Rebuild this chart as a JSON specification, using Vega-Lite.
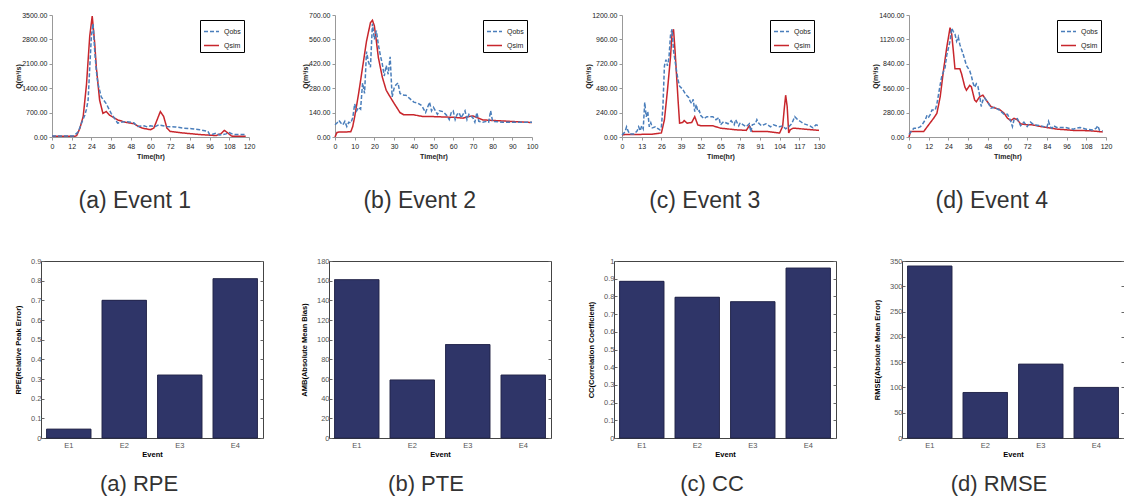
{
"$schema":"https://vega.github.io/schema/vega-lite/v6.json",
"padding":{"left":7,"top":11,"right":3,"bottom":2},
"background":"#ffffff",
"config":{"view":{"stroke":null},"font":"Liberation Sans"},
"resolve":{"scale":{"color":"independent","strokeDash":"independent"},"legend":{"color":"independent","strokeDash":"independent"}},
"datasets":{
"e1":[
{"t":0,"Q":20,"s":"Qsim"},{"t":14,"Q":20,"s":"Qsim"},{"t":15,"Q":40,"s":"Qsim"},{"t":17,"Q":250,"s":"Qsim"},{"t":19,"Q":590,"s":"Qsim"},{"t":21,"Q":1500,"s":"Qsim"},{"t":23,"Q":2900,"s":"Qsim"},{"t":24.5,"Q":3470,"s":"Qsim"},{"t":26,"Q":2700,"s":"Qsim"},{"t":27,"Q":2000,"s":"Qsim"},{"t":29,"Q":1060,"s":"Qsim"},{"t":31,"Q":680,"s":"Qsim"},{"t":33,"Q":730,"s":"Qsim"},{"t":35,"Q":630,"s":"Qsim"},{"t":40,"Q":490,"s":"Qsim"},{"t":45,"Q":420,"s":"Qsim"},{"t":50,"Q":380,"s":"Qsim"},{"t":52,"Q":320,"s":"Qsim"},{"t":55,"Q":255,"s":"Qsim"},{"t":60,"Q":210,"s":"Qsim"},{"t":62,"Q":255,"s":"Qsim"},{"t":64,"Q":490,"s":"Qsim"},{"t":66,"Q":730,"s":"Qsim"},{"t":68,"Q":590,"s":"Qsim"},{"t":70,"Q":255,"s":"Qsim"},{"t":72,"Q":160,"s":"Qsim"},{"t":80,"Q":115,"s":"Qsim"},{"t":90,"Q":70,"s":"Qsim"},{"t":100,"Q":40,"s":"Qsim"},{"t":103,"Q":100,"s":"Qsim"},{"t":105,"Q":190,"s":"Qsim"},{"t":107,"Q":120,"s":"Qsim"},{"t":109,"Q":40,"s":"Qsim"},{"t":110,"Q":20,"s":"Qsim"},{"t":118,"Q":20,"s":"Qsim"},
{"t":0,"Q":30,"s":"Qobs"},{"t":13,"Q":30,"s":"Qobs"},{"t":14,"Q":60,"s":"Qobs"},{"t":16,"Q":150,"s":"Qobs"},{"t":18,"Q":400,"s":"Qobs"},{"t":20,"Q":630,"s":"Qobs"},{"t":21,"Q":800,"s":"Qobs"},{"t":22,"Q":1060,"s":"Qobs"},{"t":23,"Q":2000,"s":"Qobs"},{"t":24,"Q":2900,"s":"Qobs"},{"t":25,"Q":3250,"s":"Qobs"},{"t":26,"Q":2480,"s":"Qobs"},{"t":27,"Q":1900,"s":"Qobs"},{"t":28,"Q":1530,"s":"Qobs"},{"t":30,"Q":1150,"s":"Qobs"},{"t":33,"Q":960,"s":"Qobs"},{"t":36,"Q":680,"s":"Qobs"},{"t":40,"Q":400,"s":"Qobs"},{"t":43,"Q":430,"s":"Qobs"},{"t":45,"Q":445,"s":"Qobs"},{"t":48,"Q":420,"s":"Qobs"},{"t":50,"Q":400,"s":"Qobs"},{"t":52,"Q":300,"s":"Qobs"},{"t":56,"Q":320,"s":"Qobs"},{"t":58,"Q":290,"s":"Qobs"},{"t":60,"Q":320,"s":"Qobs"},{"t":63,"Q":300,"s":"Qobs"},{"t":65,"Q":350,"s":"Qobs"},{"t":70,"Q":300,"s":"Qobs"},{"t":75,"Q":290,"s":"Qobs"},{"t":80,"Q":255,"s":"Qobs"},{"t":85,"Q":240,"s":"Qobs"},{"t":90,"Q":210,"s":"Qobs"},{"t":95,"Q":160,"s":"Qobs"},{"t":96,"Q":70,"s":"Qobs"},{"t":98,"Q":80,"s":"Qobs"},{"t":100,"Q":115,"s":"Qobs"},{"t":102,"Q":60,"s":"Qobs"},{"t":104,"Q":70,"s":"Qobs"},{"t":106,"Q":90,"s":"Qobs"},{"t":108,"Q":130,"s":"Qobs"},{"t":110,"Q":80,"s":"Qobs"},{"t":112,"Q":70,"s":"Qobs"},{"t":118,"Q":70,"s":"Qobs"}
],
"e2":[
{"t":0,"Q":0,"s":"Qsim"},{"t":1,"Q":26,"s":"Qsim"},{"t":2,"Q":28,"s":"Qsim"},{"t":8,"Q":30,"s":"Qsim"},{"t":9,"Q":60,"s":"Qsim"},{"t":10,"Q":117,"s":"Qsim"},{"t":12,"Q":250,"s":"Qsim"},{"t":14,"Q":400,"s":"Qsim"},{"t":16,"Q":550,"s":"Qsim"},{"t":18,"Q":656,"s":"Qsim"},{"t":19,"Q":670,"s":"Qsim"},{"t":20,"Q":637,"s":"Qsim"},{"t":21,"Q":550,"s":"Qsim"},{"t":22,"Q":457,"s":"Qsim"},{"t":24,"Q":344,"s":"Qsim"},{"t":26,"Q":268,"s":"Qsim"},{"t":28,"Q":230,"s":"Qsim"},{"t":30,"Q":193,"s":"Qsim"},{"t":33,"Q":140,"s":"Qsim"},{"t":35,"Q":127,"s":"Qsim"},{"t":40,"Q":127,"s":"Qsim"},{"t":45,"Q":117,"s":"Qsim"},{"t":50,"Q":117,"s":"Qsim"},{"t":60,"Q":113,"s":"Qsim"},{"t":65,"Q":108,"s":"Qsim"},{"t":68,"Q":118,"s":"Qsim"},{"t":70,"Q":121,"s":"Qsim"},{"t":72,"Q":112,"s":"Qsim"},{"t":75,"Q":98,"s":"Qsim"},{"t":80,"Q":95,"s":"Qsim"},{"t":90,"Q":89,"s":"Qsim"},{"t":100,"Q":83,"s":"Qsim"},
{"t":0,"Q":70,"s":"Qobs"},{"t":1,"Q":80,"s":"Qobs"},{"t":2,"Q":95,"s":"Qobs"},{"t":3,"Q":80,"s":"Qobs"},{"t":4,"Q":70,"s":"Qobs"},{"t":5,"Q":90,"s":"Qobs"},{"t":6,"Q":60,"s":"Qobs"},{"t":7,"Q":85,"s":"Qobs"},{"t":8,"Q":80,"s":"Qobs"},{"t":9,"Q":110,"s":"Qobs"},{"t":10,"Q":190,"s":"Qobs"},{"t":11,"Q":150,"s":"Qobs"},{"t":12,"Q":170,"s":"Qobs"},{"t":13,"Q":160,"s":"Qobs"},{"t":14,"Q":310,"s":"Qobs"},{"t":15,"Q":250,"s":"Qobs"},{"t":16,"Q":490,"s":"Qobs"},{"t":17,"Q":430,"s":"Qobs"},{"t":18,"Q":400,"s":"Qobs"},{"t":19,"Q":650,"s":"Qobs"},{"t":20,"Q":560,"s":"Qobs"},{"t":21,"Q":610,"s":"Qobs"},{"t":22,"Q":530,"s":"Qobs"},{"t":23,"Q":470,"s":"Qobs"},{"t":24,"Q":420,"s":"Qobs"},{"t":25,"Q":350,"s":"Qobs"},{"t":26,"Q":410,"s":"Qobs"},{"t":27,"Q":360,"s":"Qobs"},{"t":28,"Q":460,"s":"Qobs"},{"t":29,"Q":230,"s":"Qobs"},{"t":30,"Q":280,"s":"Qobs"},{"t":31,"Q":300,"s":"Qobs"},{"t":32,"Q":310,"s":"Qobs"},{"t":33,"Q":250,"s":"Qobs"},{"t":35,"Q":240,"s":"Qobs"},{"t":36,"Q":240,"s":"Qobs"},{"t":38,"Q":220,"s":"Qobs"},{"t":40,"Q":200,"s":"Qobs"},{"t":42,"Q":195,"s":"Qobs"},{"t":44,"Q":180,"s":"Qobs"},{"t":45,"Q":160,"s":"Qobs"},{"t":46,"Q":140,"s":"Qobs"},{"t":48,"Q":200,"s":"Qobs"},{"t":49,"Q":150,"s":"Qobs"},{"t":50,"Q":170,"s":"Qobs"},{"t":52,"Q":130,"s":"Qobs"},{"t":53,"Q":150,"s":"Qobs"},{"t":55,"Q":145,"s":"Qobs"},{"t":57,"Q":120,"s":"Qobs"},{"t":58,"Q":100,"s":"Qobs"},{"t":59,"Q":140,"s":"Qobs"},{"t":60,"Q":150,"s":"Qobs"},{"t":61,"Q":100,"s":"Qobs"},{"t":62,"Q":130,"s":"Qobs"},{"t":63,"Q":140,"s":"Qobs"},{"t":64,"Q":110,"s":"Qobs"},{"t":65,"Q":130,"s":"Qobs"},{"t":66,"Q":150,"s":"Qobs"},{"t":67,"Q":100,"s":"Qobs"},{"t":68,"Q":130,"s":"Qobs"},{"t":70,"Q":110,"s":"Qobs"},{"t":71,"Q":85,"s":"Qobs"},{"t":72,"Q":140,"s":"Qobs"},{"t":73,"Q":90,"s":"Qobs"},{"t":75,"Q":85,"s":"Qobs"},{"t":77,"Q":90,"s":"Qobs"},{"t":78,"Q":85,"s":"Qobs"},{"t":79,"Q":150,"s":"Qobs"},{"t":80,"Q":90,"s":"Qobs"},{"t":85,"Q":85,"s":"Qobs"},{"t":90,"Q":85,"s":"Qobs"},{"t":95,"Q":85,"s":"Qobs"},{"t":100,"Q":85,"s":"Qobs"}
],
"e3":[
{"t":0,"Q":23,"s":"Qsim"},{"t":10,"Q":25,"s":"Qsim"},{"t":20,"Q":28,"s":"Qsim"},{"t":26,"Q":40,"s":"Qsim"},{"t":28,"Q":170,"s":"Qsim"},{"t":30,"Q":460,"s":"Qsim"},{"t":32,"Q":785,"s":"Qsim"},{"t":33,"Q":1010,"s":"Qsim"},{"t":34,"Q":1060,"s":"Qsim"},{"t":35,"Q":850,"s":"Qsim"},{"t":37,"Q":363,"s":"Qsim"},{"t":38,"Q":136,"s":"Qsim"},{"t":40,"Q":143,"s":"Qsim"},{"t":41,"Q":162,"s":"Qsim"},{"t":43,"Q":136,"s":"Qsim"},{"t":46,"Q":143,"s":"Qsim"},{"t":48,"Q":200,"s":"Qsim"},{"t":50,"Q":120,"s":"Qsim"},{"t":52,"Q":110,"s":"Qsim"},{"t":60,"Q":110,"s":"Qsim"},{"t":65,"Q":87,"s":"Qsim"},{"t":75,"Q":71,"s":"Qsim"},{"t":82,"Q":65,"s":"Qsim"},{"t":84,"Q":110,"s":"Qsim"},{"t":86,"Q":55,"s":"Qsim"},{"t":95,"Q":55,"s":"Qsim"},{"t":104,"Q":39,"s":"Qsim"},{"t":106,"Q":104,"s":"Qsim"},{"t":107,"Q":266,"s":"Qsim"},{"t":108,"Q":411,"s":"Qsim"},{"t":109,"Q":300,"s":"Qsim"},{"t":110,"Q":39,"s":"Qsim"},{"t":111,"Q":71,"s":"Qsim"},{"t":113,"Q":87,"s":"Qsim"},{"t":120,"Q":78,"s":"Qsim"},{"t":130,"Q":65,"s":"Qsim"},
{"t":0,"Q":20,"s":"Qobs"},{"t":2,"Q":50,"s":"Qobs"},{"t":3,"Q":100,"s":"Qobs"},{"t":4,"Q":60,"s":"Qobs"},{"t":5,"Q":30,"s":"Qobs"},{"t":8,"Q":30,"s":"Qobs"},{"t":10,"Q":60,"s":"Qobs"},{"t":11,"Q":100,"s":"Qobs"},{"t":12,"Q":60,"s":"Qobs"},{"t":13,"Q":110,"s":"Qobs"},{"t":14,"Q":80,"s":"Qobs"},{"t":15,"Q":340,"s":"Qobs"},{"t":16,"Q":200,"s":"Qobs"},{"t":17,"Q":250,"s":"Qobs"},{"t":18,"Q":100,"s":"Qobs"},{"t":19,"Q":140,"s":"Qobs"},{"t":20,"Q":90,"s":"Qobs"},{"t":22,"Q":100,"s":"Qobs"},{"t":24,"Q":80,"s":"Qobs"},{"t":25,"Q":70,"s":"Qobs"},{"t":26,"Q":100,"s":"Qobs"},{"t":27,"Q":300,"s":"Qobs"},{"t":28,"Q":700,"s":"Qobs"},{"t":29,"Q":760,"s":"Qobs"},{"t":30,"Q":700,"s":"Qobs"},{"t":31,"Q":780,"s":"Qobs"},{"t":32,"Q":1000,"s":"Qobs"},{"t":33,"Q":1060,"s":"Qobs"},{"t":34,"Q":850,"s":"Qobs"},{"t":35,"Q":750,"s":"Qobs"},{"t":36,"Q":650,"s":"Qobs"},{"t":37,"Q":560,"s":"Qobs"},{"t":38,"Q":500,"s":"Qobs"},{"t":40,"Q":470,"s":"Qobs"},{"t":42,"Q":420,"s":"Qobs"},{"t":44,"Q":390,"s":"Qobs"},{"t":45,"Q":350,"s":"Qobs"},{"t":46,"Q":330,"s":"Qobs"},{"t":47,"Q":370,"s":"Qobs"},{"t":48,"Q":250,"s":"Qobs"},{"t":49,"Q":320,"s":"Qobs"},{"t":50,"Q":250,"s":"Qobs"},{"t":51,"Q":260,"s":"Qobs"},{"t":52,"Q":210,"s":"Qobs"},{"t":54,"Q":180,"s":"Qobs"},{"t":56,"Q":200,"s":"Qobs"},{"t":60,"Q":200,"s":"Qobs"},{"t":62,"Q":170,"s":"Qobs"},{"t":64,"Q":190,"s":"Qobs"},{"t":65,"Q":120,"s":"Qobs"},{"t":67,"Q":150,"s":"Qobs"},{"t":70,"Q":130,"s":"Qobs"},{"t":72,"Q":160,"s":"Qobs"},{"t":74,"Q":120,"s":"Qobs"},{"t":75,"Q":170,"s":"Qobs"},{"t":77,"Q":110,"s":"Qobs"},{"t":78,"Q":140,"s":"Qobs"},{"t":80,"Q":120,"s":"Qobs"},{"t":82,"Q":100,"s":"Qobs"},{"t":84,"Q":130,"s":"Qobs"},{"t":85,"Q":50,"s":"Qobs"},{"t":86,"Q":120,"s":"Qobs"},{"t":88,"Q":130,"s":"Qobs"},{"t":89,"Q":170,"s":"Qobs"},{"t":90,"Q":140,"s":"Qobs"},{"t":92,"Q":110,"s":"Qobs"},{"t":95,"Q":130,"s":"Qobs"},{"t":98,"Q":100,"s":"Qobs"},{"t":100,"Q":120,"s":"Qobs"},{"t":104,"Q":100,"s":"Qobs"},{"t":106,"Q":110,"s":"Qobs"},{"t":108,"Q":80,"s":"Qobs"},{"t":110,"Q":100,"s":"Qobs"},{"t":112,"Q":130,"s":"Qobs"},{"t":114,"Q":200,"s":"Qobs"},{"t":116,"Q":170,"s":"Qobs"},{"t":118,"Q":150,"s":"Qobs"},{"t":120,"Q":130,"s":"Qobs"},{"t":124,"Q":110,"s":"Qobs"},{"t":126,"Q":90,"s":"Qobs"},{"t":128,"Q":120,"s":"Qobs"},{"t":130,"Q":110,"s":"Qobs"}
],
"e4":[
{"t":0,"Q":0,"s":"Qsim"},{"t":1,"Q":64,"s":"Qsim"},{"t":2,"Q":64,"s":"Qsim"},{"t":9,"Q":64,"s":"Qsim"},{"t":12,"Q":140,"s":"Qsim"},{"t":15,"Q":215,"s":"Qsim"},{"t":17,"Q":272,"s":"Qsim"},{"t":19,"Q":461,"s":"Qsim"},{"t":21,"Q":764,"s":"Qsim"},{"t":23,"Q":1028,"s":"Qsim"},{"t":25,"Q":1255,"s":"Qsim"},{"t":26,"Q":1180,"s":"Qsim"},{"t":27,"Q":990,"s":"Qsim"},{"t":28,"Q":782,"s":"Qsim"},{"t":30,"Q":782,"s":"Qsim"},{"t":31,"Q":782,"s":"Qsim"},{"t":32,"Q":726,"s":"Qsim"},{"t":34,"Q":575,"s":"Qsim"},{"t":35,"Q":537,"s":"Qsim"},{"t":37,"Q":593,"s":"Qsim"},{"t":38,"Q":575,"s":"Qsim"},{"t":40,"Q":423,"s":"Qsim"},{"t":41,"Q":404,"s":"Qsim"},{"t":43,"Q":461,"s":"Qsim"},{"t":45,"Q":480,"s":"Qsim"},{"t":47,"Q":423,"s":"Qsim"},{"t":50,"Q":348,"s":"Qsim"},{"t":53,"Q":329,"s":"Qsim"},{"t":55,"Q":318,"s":"Qsim"},{"t":58,"Q":272,"s":"Qsim"},{"t":60,"Q":215,"s":"Qsim"},{"t":62,"Q":189,"s":"Qsim"},{"t":64,"Q":215,"s":"Qsim"},{"t":66,"Q":197,"s":"Qsim"},{"t":68,"Q":151,"s":"Qsim"},{"t":72,"Q":140,"s":"Qsim"},{"t":75,"Q":140,"s":"Qsim"},{"t":80,"Q":121,"s":"Qsim"},{"t":90,"Q":91,"s":"Qsim"},{"t":100,"Q":76,"s":"Qsim"},{"t":110,"Q":72,"s":"Qsim"},{"t":117,"Q":60,"s":"Qsim"},{"t":118,"Q":57,"s":"Qsim"},
{"t":0,"Q":30,"s":"Qobs"},{"t":2,"Q":80,"s":"Qobs"},{"t":3,"Q":100,"s":"Qobs"},{"t":5,"Q":100,"s":"Qobs"},{"t":7,"Q":120,"s":"Qobs"},{"t":8,"Q":140,"s":"Qobs"},{"t":10,"Q":200,"s":"Qobs"},{"t":11,"Q":250,"s":"Qobs"},{"t":12,"Q":230,"s":"Qobs"},{"t":13,"Q":260,"s":"Qobs"},{"t":14,"Q":310,"s":"Qobs"},{"t":16,"Q":310,"s":"Qobs"},{"t":17,"Q":380,"s":"Qobs"},{"t":19,"Q":600,"s":"Qobs"},{"t":20,"Q":700,"s":"Qobs"},{"t":22,"Q":800,"s":"Qobs"},{"t":23,"Q":940,"s":"Qobs"},{"t":25,"Q":1100,"s":"Qobs"},{"t":26,"Q":1250,"s":"Qobs"},{"t":27,"Q":1210,"s":"Qobs"},{"t":28,"Q":1180,"s":"Qobs"},{"t":29,"Q":1100,"s":"Qobs"},{"t":30,"Q":1150,"s":"Qobs"},{"t":31,"Q":1060,"s":"Qobs"},{"t":33,"Q":950,"s":"Qobs"},{"t":35,"Q":820,"s":"Qobs"},{"t":37,"Q":760,"s":"Qobs"},{"t":38,"Q":700,"s":"Qobs"},{"t":39,"Q":620,"s":"Qobs"},{"t":40,"Q":570,"s":"Qobs"},{"t":41,"Q":610,"s":"Qobs"},{"t":42,"Q":580,"s":"Qobs"},{"t":43,"Q":480,"s":"Qobs"},{"t":44,"Q":350,"s":"Qobs"},{"t":45,"Q":420,"s":"Qobs"},{"t":46,"Q":450,"s":"Qobs"},{"t":48,"Q":400,"s":"Qobs"},{"t":50,"Q":330,"s":"Qobs"},{"t":52,"Q":340,"s":"Qobs"},{"t":55,"Q":310,"s":"Qobs"},{"t":58,"Q":260,"s":"Qobs"},{"t":60,"Q":260,"s":"Qobs"},{"t":62,"Q":180,"s":"Qobs"},{"t":63,"Q":120,"s":"Qobs"},{"t":64,"Q":200,"s":"Qobs"},{"t":66,"Q":210,"s":"Qobs"},{"t":68,"Q":130,"s":"Qobs"},{"t":70,"Q":170,"s":"Qobs"},{"t":72,"Q":120,"s":"Qobs"},{"t":74,"Q":170,"s":"Qobs"},{"t":76,"Q":140,"s":"Qobs"},{"t":80,"Q":130,"s":"Qobs"},{"t":84,"Q":110,"s":"Qobs"},{"t":85,"Q":180,"s":"Qobs"},{"t":86,"Q":120,"s":"Qobs"},{"t":87,"Q":100,"s":"Qobs"},{"t":88,"Q":130,"s":"Qobs"},{"t":90,"Q":110,"s":"Qobs"},{"t":95,"Q":110,"s":"Qobs"},{"t":100,"Q":90,"s":"Qobs"},{"t":104,"Q":110,"s":"Qobs"},{"t":108,"Q":90,"s":"Qobs"},{"t":112,"Q":80,"s":"Qobs"},{"t":114,"Q":100,"s":"Qobs"},{"t":115,"Q":130,"s":"Qobs"},{"t":116,"Q":80,"s":"Qobs"},{"t":118,"Q":70,"s":"Qobs"}
],
"m":[
{"e":"E1","RPE":0.045,"AMB":161,"CC":0.885,"RMSE":340},
{"e":"E2","RPE":0.70,"AMB":59,"CC":0.795,"RMSE":90},
{"e":"E3","RPE":0.32,"AMB":95,"CC":0.77,"RMSE":146},
{"e":"E4","RPE":0.81,"AMB":64,"CC":0.96,"RMSE":100}
],
"pad":[{"a":0}]
},
"columns":1,
"align":"none",
"spacing":43,
"concat":[
{"hconcat":[
{"width":1,"height":1,"data":{"name":"pad"},"mark":{"type":"point","opacity":0},"encoding":{}},
{"hconcat":[
{"width":197,"height":122,"data":{"name":"e1"},"mark":{"type":"line","strokeWidth":1.5},
"title":{"text":"(a) Event 1","orient":"bottom","fontSize":23,"fontWeight":"normal","color":"#333","offset":31,"frame":"bounds","anchor":"middle"},
"encoding":{
"x":{"field":"t","type":"quantitative","scale":{"domain":[0,120]},"axis":{"values":[0,12,24,36,48,60,72,84,96,108,120],"title":"Time(hr)","titleFontSize":7,"titleFontWeight":"bold","titleColor":"#222","titlePadding":3,"labelFontSize":7,"labelColor":"#222","domainColor":"#999","tickColor":"#999","tickSize":3,"labelPadding":2,"grid":false,"labelFlush":false}},
"y":{"field":"Q","type":"quantitative","scale":{"domain":[0,3500]},"axis":{"values":[0,700,1400,2100,2800,3500],"format":".2f","title":"Q(m³/s)","titleFontSize":7,"titleFontWeight":"bold","titleColor":"#222","titlePadding":0,"labelFontSize":7,"labelColor":"#222","domainColor":"#999","tickColor":"#999","tickSize":3,"labelPadding":2,"grid":false}},
"color":{"field":"s","type":"nominal","scale":{"domain":["Qobs","Qsim"],"range":["#4A7EBB","#C8262C"]},"legend":{"orient":"top-right","title":null,"strokeColor":"#000","fillColor":"#fff","padding":3,"offset":5,"rowPadding":2,"symbolType":"stroke","symbolSize":225,"symbolStrokeWidth":1.5,"labelFontSize":7,"labelColor":"#222"}},
"strokeDash":{"field":"s","type":"nominal","scale":{"domain":["Qobs","Qsim"],"range":[[4,2],[1,0]]},"legend":{"orient":"top-right","title":null,"strokeColor":"#000","fillColor":"#fff","padding":3,"offset":5,"rowPadding":2,"symbolType":"stroke","symbolSize":225,"symbolStrokeWidth":1.5,"labelFontSize":7,"labelColor":"#222"}}
}},
{"width":197,"height":122,"data":{"name":"e2"},"mark":{"type":"line","strokeWidth":1.5},
"title":{"text":"(b) Event 2","orient":"bottom","fontSize":23,"fontWeight":"normal","color":"#333","offset":31,"frame":"bounds","anchor":"middle"},
"encoding":{
"x":{"field":"t","type":"quantitative","scale":{"domain":[0,100]},"axis":{"values":[0,10,20,30,40,50,60,70,80,90,100],"title":"Time(hr)","titleFontSize":7,"titleFontWeight":"bold","titleColor":"#222","titlePadding":3,"labelFontSize":7,"labelColor":"#222","domainColor":"#999","tickColor":"#999","tickSize":3,"labelPadding":2,"grid":false,"labelFlush":false}},
"y":{"field":"Q","type":"quantitative","scale":{"domain":[0,700]},"axis":{"values":[0,140,280,420,560,700],"format":".2f","title":"Q(m³/s)","titleFontSize":7,"titleFontWeight":"bold","titleColor":"#222","titlePadding":0,"labelFontSize":7,"labelColor":"#222","domainColor":"#999","tickColor":"#999","tickSize":3,"labelPadding":2,"grid":false}},
"color":{"field":"s","type":"nominal","scale":{"domain":["Qobs","Qsim"],"range":["#4A7EBB","#C8262C"]},"legend":{"orient":"top-right","title":null,"strokeColor":"#000","fillColor":"#fff","padding":3,"offset":5,"rowPadding":2,"symbolType":"stroke","symbolSize":225,"symbolStrokeWidth":1.5,"labelFontSize":7,"labelColor":"#222"}},
"strokeDash":{"field":"s","type":"nominal","scale":{"domain":["Qobs","Qsim"],"range":[[4,2],[1,0]]},"legend":{"orient":"top-right","title":null,"strokeColor":"#000","fillColor":"#fff","padding":3,"offset":5,"rowPadding":2,"symbolType":"stroke","symbolSize":225,"symbolStrokeWidth":1.5,"labelFontSize":7,"labelColor":"#222"}}
}},
{"width":197,"height":122,"data":{"name":"e3"},"mark":{"type":"line","strokeWidth":1.5},
"title":{"text":"(c) Event 3","orient":"bottom","fontSize":23,"fontWeight":"normal","color":"#333","offset":31,"frame":"bounds","anchor":"middle"},
"encoding":{
"x":{"field":"t","type":"quantitative","scale":{"domain":[0,130]},"axis":{"values":[0,13,26,39,52,65,78,91,104,117,130],"title":"Time(hr)","titleFontSize":7,"titleFontWeight":"bold","titleColor":"#222","titlePadding":3,"labelFontSize":7,"labelColor":"#222","domainColor":"#999","tickColor":"#999","tickSize":3,"labelPadding":2,"grid":false,"labelFlush":false}},
"y":{"field":"Q","type":"quantitative","scale":{"domain":[0,1200]},"axis":{"values":[0,240,480,720,960,1200],"format":".2f","title":"Q(m³/s)","titleFontSize":7,"titleFontWeight":"bold","titleColor":"#222","titlePadding":0,"labelFontSize":7,"labelColor":"#222","domainColor":"#999","tickColor":"#999","tickSize":3,"labelPadding":2,"grid":false}},
"color":{"field":"s","type":"nominal","scale":{"domain":["Qobs","Qsim"],"range":["#4A7EBB","#C8262C"]},"legend":{"orient":"top-right","title":null,"strokeColor":"#000","fillColor":"#fff","padding":3,"offset":5,"rowPadding":2,"symbolType":"stroke","symbolSize":225,"symbolStrokeWidth":1.5,"labelFontSize":7,"labelColor":"#222"}},
"strokeDash":{"field":"s","type":"nominal","scale":{"domain":["Qobs","Qsim"],"range":[[4,2],[1,0]]},"legend":{"orient":"top-right","title":null,"strokeColor":"#000","fillColor":"#fff","padding":3,"offset":5,"rowPadding":2,"symbolType":"stroke","symbolSize":225,"symbolStrokeWidth":1.5,"labelFontSize":7,"labelColor":"#222"}}
}},
{"width":197,"height":122,"data":{"name":"e4"},"mark":{"type":"line","strokeWidth":1.5},
"title":{"text":"(d) Event 4","orient":"bottom","fontSize":23,"fontWeight":"normal","color":"#333","offset":31,"frame":"bounds","anchor":"middle"},
"encoding":{
"x":{"field":"t","type":"quantitative","scale":{"domain":[0,120]},"axis":{"values":[0,12,24,36,48,60,72,84,96,108,120],"title":"Time(hr)","titleFontSize":7,"titleFontWeight":"bold","titleColor":"#222","titlePadding":3,"labelFontSize":7,"labelColor":"#222","domainColor":"#999","tickColor":"#999","tickSize":3,"labelPadding":2,"grid":false,"labelFlush":false}},
"y":{"field":"Q","type":"quantitative","scale":{"domain":[0,1400]},"axis":{"values":[0,280,560,840,1120,1400],"format":".2f","title":"Q(m³/s)","titleFontSize":7,"titleFontWeight":"bold","titleColor":"#222","titlePadding":0,"labelFontSize":7,"labelColor":"#222","domainColor":"#999","tickColor":"#999","tickSize":3,"labelPadding":2,"grid":false}},
"color":{"field":"s","type":"nominal","scale":{"domain":["Qobs","Qsim"],"range":["#4A7EBB","#C8262C"]},"legend":{"orient":"top-right","title":null,"strokeColor":"#000","fillColor":"#fff","padding":3,"offset":5,"rowPadding":2,"symbolType":"stroke","symbolSize":225,"symbolStrokeWidth":1.5,"labelFontSize":7,"labelColor":"#222"}},
"strokeDash":{"field":"s","type":"nominal","scale":{"domain":["Qobs","Qsim"],"range":[[4,2],[1,0]]},"legend":{"orient":"top-right","title":null,"strokeColor":"#000","fillColor":"#fff","padding":3,"offset":5,"rowPadding":2,"symbolType":"stroke","symbolSize":225,"symbolStrokeWidth":1.5,"labelFontSize":7,"labelColor":"#222"}}
}}
],"spacing":46,"bounds":"full","resolve":{"scale":{"color":"independent","strokeDash":"independent"},"legend":{"color":"independent","strokeDash":"independent"}}}
],"spacing":0,"bounds":"full","resolve":{"scale":{"color":"independent","strokeDash":"independent"},"legend":{"color":"independent","strokeDash":"independent"}}},
{"hconcat":[
{"width":1,"height":1,"data":{"name":"pad"},"mark":{"type":"point","opacity":0},"encoding":{}},
{"hconcat":[
{"width":222,"height":177,"data":{"name":"m"},"view":{"stroke":"#444"},
"title":{"text":"(a) RPE","orient":"bottom","fontSize":22,"fontWeight":"normal","color":"#333","offset":16,"frame":"bounds","anchor":"middle"},
"layer":[
{"mark":{"type":"bar","color":"#2F3568","stroke":"#1c1f40","strokeWidth":0.6},
"encoding":{"x":{"field":"e","type":"nominal","scale":{"paddingInner":0.2,"paddingOuter":0.1},"axis":{"title":"Event","titleFontSize":7.5,"titleFontWeight":"bold","titleColor":"#000","titlePadding":2,"labelAngle":0,"labelFontSize":7.5,"labelColor":"#555","domain":false,"ticks":false,"labelPadding":3}},
"y":{"field":"RPE","type":"quantitative","scale":{"domain":[0,0.9]},"axis":{"values":[0,0.1,0.2,0.3,0.4,0.5,0.6,0.7,0.8,0.9],"format":"~g","title":"RPE(Relative Peak Error)","titleFontSize":7.5,"titleFontWeight":"bold","titleColor":"#000","titlePadding":8,"labelFontSize":7.5,"labelColor":"#555","domain":false,"tickSize":-3,"tickColor":"#666","labelPadding":3,"grid":false}}}},
{"mark":{"type":"bar","color":"#2F3568","stroke":"#1c1f40","strokeWidth":0.6},
"encoding":{"x":{"field":"e","type":"nominal"},
"y":{"field":"RPE","type":"quantitative","axis":{"orient":"right","values":[0,0.1,0.2,0.3,0.4,0.5,0.6,0.7,0.8,0.9],"labels":false,"title":null,"domain":false,"tickSize":-3,"tickColor":"#666","grid":false}}}}
],"resolve":{"axis":{"y":"independent"}}},
{"width":222,"height":177,"data":{"name":"m"},"view":{"stroke":"#444"},
"title":{"text":"(b) PTE","orient":"bottom","fontSize":22,"fontWeight":"normal","color":"#333","offset":16,"frame":"bounds","anchor":"middle"},
"layer":[
{"mark":{"type":"bar","color":"#2F3568","stroke":"#1c1f40","strokeWidth":0.6},
"encoding":{"x":{"field":"e","type":"nominal","scale":{"paddingInner":0.2,"paddingOuter":0.1},"axis":{"title":"Event","titleFontSize":7.5,"titleFontWeight":"bold","titleColor":"#000","titlePadding":2,"labelAngle":0,"labelFontSize":7.5,"labelColor":"#555","domain":false,"ticks":false,"labelPadding":3}},
"y":{"field":"AMB","type":"quantitative","scale":{"domain":[0,180]},"axis":{"values":[0,20,40,60,80,100,120,140,160,180],"title":"AMB(Absolute Mean Bias)","titleFontSize":7.5,"titleFontWeight":"bold","titleColor":"#000","titlePadding":8,"labelFontSize":7.5,"labelColor":"#555","domain":false,"tickSize":-3,"tickColor":"#666","labelPadding":3,"grid":false}}}},
{"mark":{"type":"bar","color":"#2F3568","stroke":"#1c1f40","strokeWidth":0.6},
"encoding":{"x":{"field":"e","type":"nominal"},
"y":{"field":"AMB","type":"quantitative","axis":{"orient":"right","values":[0,20,40,60,80,100,120,140,160,180],"labels":false,"title":null,"domain":false,"tickSize":-3,"tickColor":"#666","grid":false}}}}
],"resolve":{"axis":{"y":"independent"}}},
{"width":222,"height":177,"data":{"name":"m"},"view":{"stroke":"#444"},
"title":{"text":"(c) CC","orient":"bottom","fontSize":22,"fontWeight":"normal","color":"#333","offset":16,"frame":"bounds","anchor":"middle"},
"layer":[
{"mark":{"type":"bar","color":"#2F3568","stroke":"#1c1f40","strokeWidth":0.6},
"encoding":{"x":{"field":"e","type":"nominal","scale":{"paddingInner":0.2,"paddingOuter":0.1},"axis":{"title":"Event","titleFontSize":7.5,"titleFontWeight":"bold","titleColor":"#000","titlePadding":2,"labelAngle":0,"labelFontSize":7.5,"labelColor":"#555","domain":false,"ticks":false,"labelPadding":3}},
"y":{"field":"CC","type":"quantitative","scale":{"domain":[0,1]},"axis":{"values":[0,0.1,0.2,0.3,0.4,0.5,0.6,0.7,0.8,0.9,1],"format":"~g","title":"CC(Correlation Coefficient)","titleFontSize":7.5,"titleFontWeight":"bold","titleColor":"#000","titlePadding":8,"labelFontSize":7.5,"labelColor":"#555","domain":false,"tickSize":-3,"tickColor":"#666","labelPadding":3,"grid":false}}}},
{"mark":{"type":"bar","color":"#2F3568","stroke":"#1c1f40","strokeWidth":0.6},
"encoding":{"x":{"field":"e","type":"nominal"},
"y":{"field":"CC","type":"quantitative","axis":{"orient":"right","values":[0,0.1,0.2,0.3,0.4,0.5,0.6,0.7,0.8,0.9,1],"labels":false,"title":null,"domain":false,"tickSize":-3,"tickColor":"#666","grid":false}}}}
],"resolve":{"axis":{"y":"independent"}}},
{"width":222,"height":177,"data":{"name":"m"},"view":{"stroke":"#444"},
"title":{"text":"(d) RMSE","orient":"bottom","fontSize":22,"fontWeight":"normal","color":"#333","offset":16,"frame":"bounds","anchor":"middle"},
"layer":[
{"mark":{"type":"bar","color":"#2F3568","stroke":"#1c1f40","strokeWidth":0.6},
"encoding":{"x":{"field":"e","type":"nominal","scale":{"paddingInner":0.2,"paddingOuter":0.1},"axis":{"title":"Event","titleFontSize":7.5,"titleFontWeight":"bold","titleColor":"#000","titlePadding":2,"labelAngle":0,"labelFontSize":7.5,"labelColor":"#555","domain":false,"ticks":false,"labelPadding":3}},
"y":{"field":"RMSE","type":"quantitative","scale":{"domain":[0,350]},"axis":{"values":[0,50,100,150,200,250,300,350],"title":"RMSE(Absolute Mean Error)","titleFontSize":7.5,"titleFontWeight":"bold","titleColor":"#000","titlePadding":8,"labelFontSize":7.5,"labelColor":"#555","domain":false,"tickSize":-3,"tickColor":"#666","labelPadding":3,"grid":false}}}},
{"mark":{"type":"bar","color":"#2F3568","stroke":"#1c1f40","strokeWidth":0.6},
"encoding":{"x":{"field":"e","type":"nominal"},
"y":{"field":"RMSE","type":"quantitative","axis":{"orient":"right","values":[0,50,100,150,200,250,300,350],"labels":false,"title":null,"domain":false,"tickSize":-3,"tickColor":"#666","grid":false}}}}
],"resolve":{"axis":{"y":"independent"}}}
],"spacing":35,"bounds":"full"}
],"spacing":0,"bounds":"full"}
]
}
